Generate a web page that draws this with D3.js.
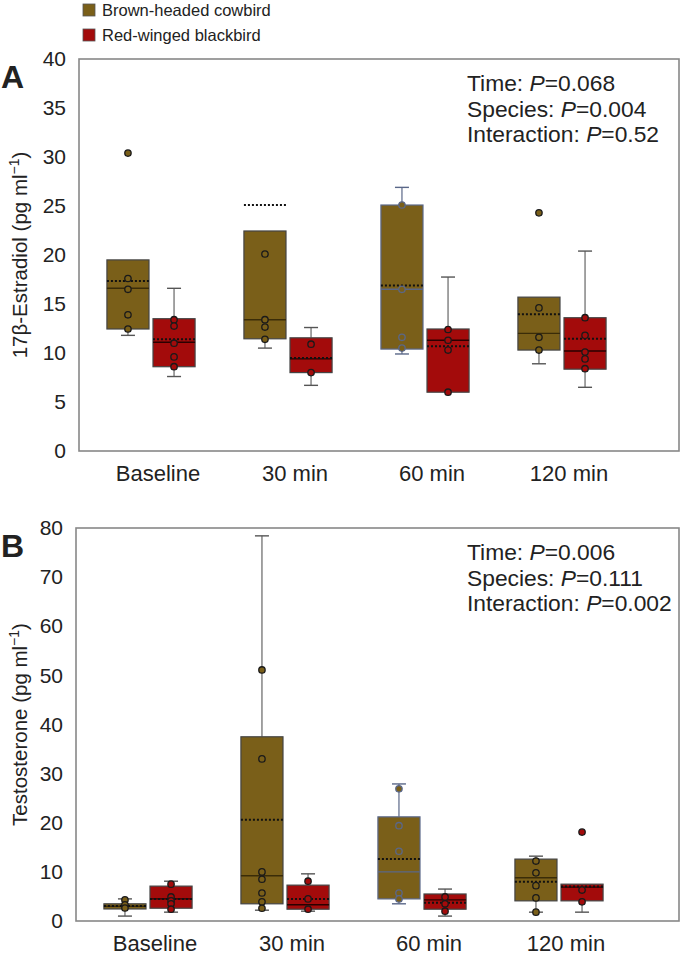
<!DOCTYPE html>
<html>
<head>
<meta charset="utf-8">
<script src="https://cdn.jsdelivr.net/npm/d3@7"></script>
<style>
  body { margin: 0; background: #fff; }
  text { font-family: "Liberation Sans", Arial, sans-serif; }
</style>
</head>
<body>
<svg id="chart" width="686" height="955"></svg>
<script>
const times = ["Baseline", "30 min", "60 min", "120 min"];
const species = ["Brown-headed cowbird", "Red-winged blackbird"];
const speciesColors = ["#7a5f19", "#a30b0b"];

// box stats per time x species: [whiskerLo, q1, median, q3, whiskerHi, mean]
const e2Box = [
  [11.8, 12.45, 16.6, 19.5, null, 17.35],
  [7.6, 8.6, 11.1, 13.5, 16.6, 11.4],
  [10.5, 11.45, 13.4, 22.45, null, 25.1],
  [6.7, 8.0, 9.4, 11.55, 12.6, 9.5],
  [9.9, 10.4, 16.5, 25.1, 26.9, 16.9],
  [null, 6.0, 11.3, 12.45, 17.75, 10.7],
  [8.9, 10.3, 12.0, 15.7, null, 13.95],
  [6.5, 8.35, 10.2, 13.6, 20.4, 11.45]
];
const e2Points = [
  [30.4, 17.6, 16.5, 13.9, 12.45],
  [13.4, 12.75, 11.0, 9.6, 8.6],
  [20.1, 13.4, 12.65, 11.4],
  [10.9, 8.0],
  [25.1, 16.5, 11.6, 10.5],
  [12.4, 11.3, 10.3, 6.0],
  [24.3, 14.6, 11.6, 10.3],
  [13.6, 11.8, 10.1, 9.4, 8.4]
];

const tBox = [
  [1.0, 2.45, 3.0, 3.5, 4.5, 3.05],
  [1.8, 2.6, 4.5, 7.1, 8.1, 4.5],
  [2.2, 3.5, 9.2, 37.5, 78.4, 20.6],
  [2.0, 2.4, 3.3, 7.3, 9.6, 4.5],
  [3.5, 4.5, 10.0, 21.2, 27.9, 12.6],
  [1.0, 2.4, 4.3, 5.5, 6.5, 3.7],
  [1.8, 4.1, 8.8, 12.6, 13.2, 8.0],
  [1.8, 4.1, 6.9, 7.5, null, 7.0]
];
const tPoints = [
  [4.3, 3.3, 2.65],
  [7.5, 4.9, 4.1, 3.5, 2.4],
  [51.1, 33.0, 10.0, 8.5, 5.7, 3.9, 2.6],
  [8.1, 4.5, 2.4],
  [26.9, 19.4, 14.2, 5.7, 4.5],
  [4.9, 3.5, 2.0],
  [12.2, 9.8, 7.2, 4.7, 1.8],
  [18.1, 6.3, 3.9]
];

const e2Stats = ["Time: ", "0.068", "Species: ", "0.004", "Interaction: ", "0.52"];
const tStats = ["Time: ", "0.006", "Species: ", "0.111", "Interaction: ", "0.002"];

const svg = d3.select("#chart");

// legend
species.forEach((s, i) => {
  svg.append("rect")
    .attr("x", 83).attr("y", 4 + i * 25)
    .attr("width", 12).attr("height", 12)
    .attr("fill", speciesColors[i])
    .attr("stroke", "#555").attr("stroke-width", 0.8);
  svg.append("text")
    .attr("x", 102).attr("y", 16 + i * 25)
    .style("font-size", "16.5px")
    .attr("fill", "#222")
    .text(s);
});

function drawPanel(cfg) {
  const g = svg.append("g");
  const y = d3.scaleLinear().domain([0, cfg.max]).range([cfg.bottom, cfg.top]);
  const x = d3.scaleBand().domain(times).range([cfg.left + 3.5, cfg.left + 551.5]);
  const xs = d3.scaleBand().domain([0, 1]).range([0, x.bandwidth()]).paddingInner(0.087).paddingOuter(0.53);

  // frame
  g.append("rect")
    .attr("x", cfg.left).attr("y", cfg.top)
    .attr("width", cfg.right - cfg.left).attr("height", cfg.bottom - cfg.top)
    .attr("fill", "none").attr("stroke", "#888").attr("stroke-width", 1.6);

  // y axis
  const yAxis = g.append("g")
    .attr("transform", `translate(${cfg.left},0)`)
    .call(d3.axisLeft(y).tickValues(d3.range(0, cfg.max + 1, cfg.step)).tickSize(0).tickPadding(13));
  yAxis.select(".domain").remove();
  yAxis.selectAll("text").style("font-size", "21px").attr("fill", "#222")
    .style("font-family", "Liberation Sans, Arial, sans-serif");

  // x axis labels
  const xAxis = g.append("g")
    .attr("transform", `translate(7,${cfg.bottom})`)
    .call(d3.axisBottom(x).tickSize(0).tickPadding(14));
  xAxis.select(".domain").remove();
  xAxis.selectAll("text").style("font-size", "22px").attr("fill", "#222")
    .style("font-family", "Liberation Sans, Arial, sans-serif");

  // y title
  g.append("text")
    .attr("transform", `translate(27,${(cfg.top + cfg.bottom) / 2}) rotate(-90)`)
    .attr("text-anchor", "middle")
    .style("font-size", "20.5px").attr("fill", "#222")
    .html(cfg.title + " (pg ml<tspan dy='-8' font-size='14px'>\u22121</tspan><tspan dy='8'>)</tspan>");

  // panel letter
  g.append("text")
    .attr("x", 1).attr("y", cfg.top + 29)
    .style("font-size", "32px").style("font-weight", "bold").attr("fill", "#222")
    .text(cfg.letter);

  // boxes
  const bw = xs.bandwidth();
  cfg.box.forEach((b, i) => {
    const t = times[Math.floor(i / 2)], sp = i % 2;
    const x0 = x(t) + xs(sp), cx = x0 + bw / 2;
    const [wLo, q1, med, q3, wHi, mean] = b;
    const blue = (t === "60 min" && sp === 0);
    const edge = blue ? "#5a6788" : "#444";
    const bg = g.append("g");
    const whisk = (v0, v1) => {
      bg.append("line").attr("x1", cx).attr("x2", cx).attr("y1", y(v0)).attr("y2", y(v1))
        .attr("stroke", blue ? edge : "#666").attr("stroke-width", 1.2);
      bg.append("line").attr("x1", cx - 7).attr("x2", cx + 7).attr("y1", y(v1)).attr("y2", y(v1))
        .attr("stroke", blue ? edge : "#555").attr("stroke-width", 1.4);
    };
    if (wHi != null) whisk(q3, wHi);
    if (wLo != null) whisk(q1, wLo);
    bg.append("rect")
      .attr("x", x0).attr("y", y(q3))
      .attr("width", bw).attr("height", y(q1) - y(q3))
      .attr("fill", speciesColors[sp]).attr("stroke", edge).attr("stroke-width", 1.2);
    bg.append("line").attr("x1", x0).attr("x2", x0 + bw).attr("y1", y(med)).attr("y2", y(med))
      .attr("stroke", sp === 0 ? (blue ? edge : "#3a2c08") : "#2a0000").attr("stroke-width", 1.4);
    bg.append("line").attr("x1", x0).attr("x2", x0 + bw).attr("y1", y(mean)).attr("y2", y(mean))
      .attr("stroke", "#111").attr("stroke-width", 2).attr("stroke-dasharray", "2,2");
    bg.selectAll("circle")
      .data(cfg.points[i])
      .join("circle")
      .attr("cx", cx).attr("cy", d => y(d)).attr("r", 3.2)
      .attr("fill", speciesColors[sp])
      .attr("stroke", blue ? edge : "#1a1a1a").attr("stroke-width", 1.3);
  });

  // stats text
  const st = g.append("g");
  for (let k = 0; k < 3; k++) {
    const tx = st.append("text")
      .attr("x", 467).attr("y", cfg.top + 32 + k * 25.5)
      .style("font-size", "22.8px").attr("fill", "#222");
    tx.append("tspan").text(cfg.stats[k * 2]);
    tx.append("tspan").style("font-style", "italic").text("P");
    tx.append("tspan").text("=" + cfg.stats[k * 2 + 1]);
  }
}

drawPanel({ letter: "A", title: "17\u03b2-Estradiol", top: 59, bottom: 451, left: 79, right: 679,
  max: 40, step: 5, box: e2Box, points: e2Points, stats: e2Stats });
drawPanel({ letter: "B", title: "Testosterone", top: 528, bottom: 921, left: 76, right: 679,
  max: 80, step: 10, box: tBox, points: tPoints, stats: tStats });
</script>
</body>
</html>
